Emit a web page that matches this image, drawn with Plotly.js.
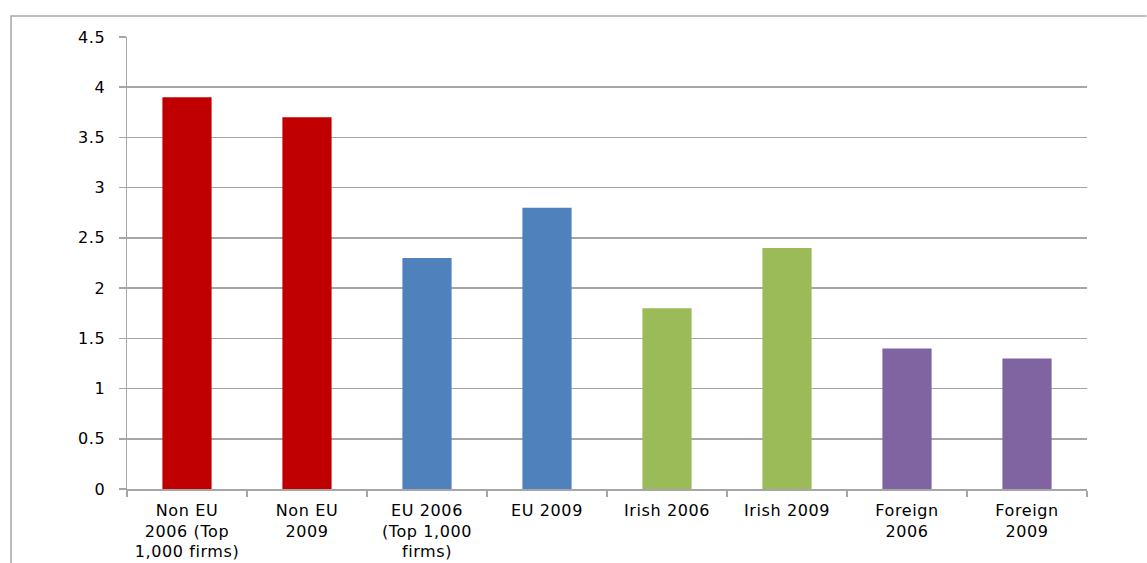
<!DOCTYPE html>
<html>
<head>
<meta charset="utf-8">
<script src="https://cdn.plot.ly/plotly-3.0.1.min.js"></script>
<style>
html,body{margin:0;padding:0;background:#fff;}
#chart{width:1147px;height:563px;}
.xtick text,.ytick text{letter-spacing:0.6px;}
</style>
</head>
<body>
<div id="chart"></div>
<script>
const categories = [
  "Non EU<br>2006 (Top<br>1,000 firms)",
  "Non EU<br>2009",
  "EU 2006<br>(Top 1,000<br>firms)",
  "EU 2009",
  "Irish 2006",
  "Irish 2009",
  "Foreign<br>2006",
  "Foreign<br>2009"
];
const values = [3.9, 3.7, 2.3, 2.8, 1.8, 2.4, 1.4, 1.3];
const barColors = ["#C00000", "#C00000", "#4F81BD", "#4F81BD", "#9BBB59", "#9BBB59", "#8064A2", "#8064A2"];

const gridGray = "#a6a6a6";
const trace = {
  type: "bar",
  x: categories,
  y: values,
  marker: {color: barColors, line: {width: 0}},
  hoverinfo: "x+y"
};

const layout = {
  width: 1147,
  height: 563,
  margin: {l: 127, r: 60, t: 37, b: 74, pad: 0},
  paper_bgcolor: "#fff",
  plot_bgcolor: "#fff",
  showlegend: false,
  bargap: 0.59,
  font: {family: "DejaVu Sans, sans-serif", size: 16, color: "#000"},
  xaxis: {
    type: "category",
    showline: true,
    linecolor: gridGray,
    linewidth: 1.5,
    ticks: "outside",
    tickson: "boundaries",
    ticklen: 6,
    tickcolor: gridGray,
    tickwidth: 1.5,
    ticklabelstandoff: 6,
    showgrid: false,
    tickfont: {size: 16},
    automargin: false
  },
  yaxis: {
    range: [0, 4.5],
    dtick: 0.5,
    showline: true,
    linecolor: gridGray,
    linewidth: 1.5,
    ticks: "outside",
    ticklen: 7,
    tickcolor: gridGray,
    tickwidth: 1.5,
    ticklabelstandoff: 10,
    showgrid: true,
    gridcolor: gridGray,
    gridwidth: 1.5,
    zeroline: false,
    tickfont: {size: 16},
    automargin: false
  },
  shapes: [{
    type: "path",
    xref: "paper",
    yref: "paper",
    path: "M -0.1208,-0.17 L -0.1208,1.0465 L 1.062,1.0465",
    line: {color: gridGray, width: 1.5},
    layer: "below"
  }]
};

Plotly.newPlot("chart", [trace], layout, {displayModeBar: false, staticPlot: true});
</script>
</body>
</html>
